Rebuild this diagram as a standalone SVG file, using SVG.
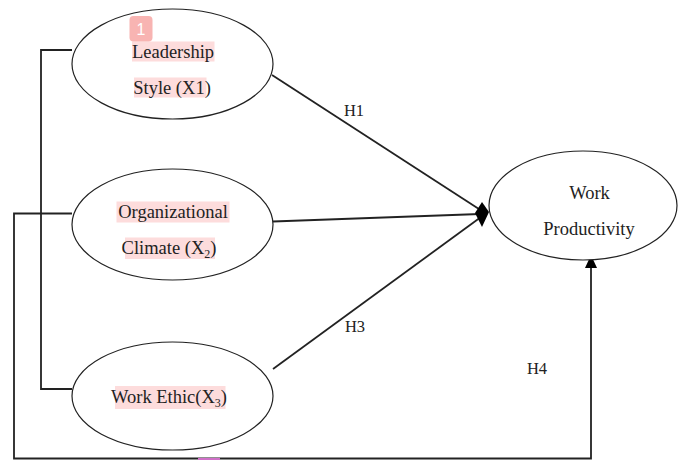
<svg xmlns="http://www.w3.org/2000/svg" width="678" height="460" viewBox="0 0 678 460">
<style>
.node ellipse{fill:#fff;stroke:#222;stroke-width:1.2}
.lbl{font-family:"Liberation Serif","Times New Roman",serif;font-size:18.5px;fill:#222;text-anchor:middle}
.h{font-size:16.5px}
.hl{fill:#fddcdc}
.conn{fill:none;stroke:#222;stroke-width:1.8}
</style>
<rect width="678" height="460" fill="#fff"/>
<g id="connectors">
<polyline class="conn" points="72,50 41,50 41,389 72,389"/>
<polyline class="conn" points="72,213.5 14,213.5 14,458.5 591,458.5 591,268"/>
<path d="M585,268 L591,255 L597,268 Z" fill="#000"/>
<line class="conn" x1="272" y1="75" x2="482" y2="211"/>
<line class="conn" x1="273" y1="221.5" x2="480" y2="214"/>
<line class="conn" x1="273" y1="369" x2="481" y2="217"/>
<polygon points="475,213 482,202 489,212 482,227" fill="#000"/>
<rect x="198" y="458" width="22" height="2" fill="#d070c8"/>
</g>
<g id="n1" class="node">
<ellipse cx="172.5" cy="64" rx="100.5" ry="55"/>
<rect class="hl" x="132" y="41.5" width="82.5" height="20"/>
<rect class="hl" x="134" y="77.5" width="72.5" height="20"/>
<rect x="129.5" y="16" width="23" height="25.5" rx="4" fill="#f8b4b2"/>
<text x="141" y="35" font-family="Liberation Sans,Arial,sans-serif" font-size="16" fill="#fff" text-anchor="middle">1</text>
<text class="lbl" x="173" y="58">Leadership</text>
<text class="lbl" x="172" y="94">Style (X1)</text>
</g>
<g id="n2" class="node">
<ellipse cx="172.5" cy="224.5" rx="100.5" ry="55.5"/>
<rect class="hl" x="116.5" y="201.5" width="113" height="21"/>
<rect class="hl" x="125" y="237.5" width="90" height="21.5"/>
<text class="lbl" x="173" y="218">Organizational</text>
<text class="lbl" x="169" y="254">Climate (X<tspan font-size="12" dy="4">2</tspan><tspan dy="-4">)</tspan></text>
</g>
<g id="n3" class="node">
<ellipse cx="172.5" cy="396" rx="100.5" ry="54"/>
<rect class="hl" x="115" y="386" width="110.5" height="23"/>
<text class="lbl" x="169" y="403">Work Ethic(X<tspan font-size="12" dy="4">3</tspan><tspan dy="-4">)</tspan></text>
</g>
<g id="n4" class="node">
<ellipse cx="583" cy="205.5" rx="94" ry="54.5"/>
<text class="lbl" x="589.5" y="199">Work</text>
<text class="lbl" x="589" y="235">Productivity</text>
</g>
<g id="labels">
<text class="lbl h" x="354" y="116">H1</text>
<text class="lbl h" x="355" y="332">H3</text>
<text class="lbl h" x="537" y="374">H4</text>
</g>
</svg>
